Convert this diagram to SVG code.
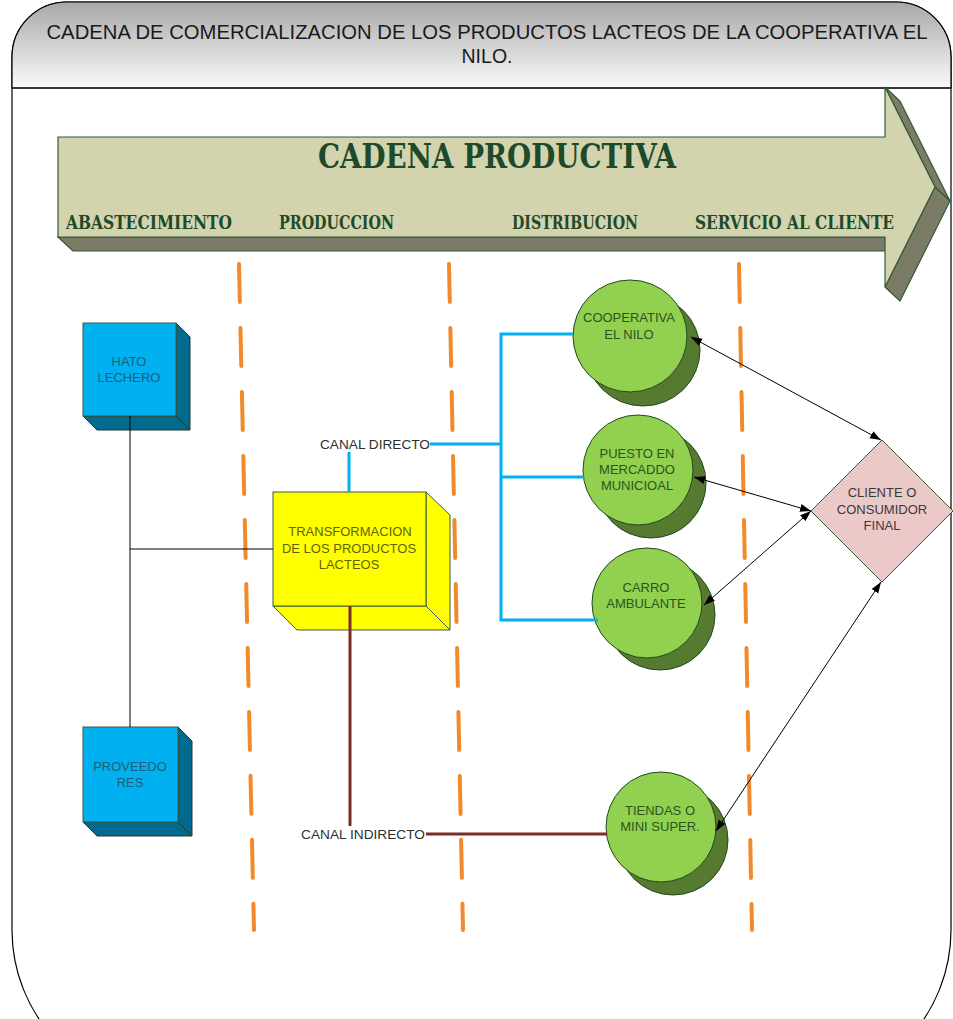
<svg xmlns="http://www.w3.org/2000/svg" width="953" height="1019" viewBox="0 0 953 1019">
  <style>
    .title { font-family: "Liberation Sans", Arial, sans-serif; font-size: 20px; fill: #1a1a1a; text-anchor: middle; }
    .stage { font-family: "DejaVu Serif", "Liberation Serif", serif; font-weight: bold; font-size: 18px; fill: #1d4a2a; }
    .big { font-family: "DejaVu Serif", "Liberation Serif", serif; font-weight: bold; font-size: 34px; fill: #1d4a2a; }
    .lbl { font-family: "Liberation Sans", Arial, sans-serif; font-size: 13px; text-anchor: middle; }
    .canal { font-family: "Liberation Sans", Arial, sans-serif; font-size: 13px; fill: #2e2e2e; }
    .blueTxt { fill: #1d5f7a; }
    .yelTxt { fill: #5f6400; }
    .grnTxt { fill: #2a561b; }
    .dmdTxt { fill: #3a3a3a; }
    .lane { stroke: #f28a2b; stroke-width: 4; stroke-linecap: round; stroke-dasharray: 38 26; fill: none; }
    .blue { stroke: #00b0f0; stroke-width: 3; fill: none; }
    .brown { stroke: #7b2d26; stroke-width: 3; fill: none; }
    .thin { stroke: #000; stroke-width: 1; fill: none; }
    .bidir { stroke: #000; stroke-width: 1; fill: none; marker-start: url(#tip); marker-end: url(#tip); }
    .boxFront { fill: #00b0f0; stroke: #3d5a3d; stroke-width: 1; }
    .boxSide { fill: #006b8f; stroke: #1d3a2d; stroke-width: 1; }
    .yel { fill: #ffff00; stroke: #3d5a3d; stroke-width: 1; }
    .circFront { fill: #92d050; stroke: #1e4a1e; stroke-width: 1; }
    .circBack { fill: #567a30; stroke: #1e4a1e; stroke-width: 1; }
  </style>
  <defs>
    <linearGradient id="headFill" x1="0" y1="0" x2="0" y2="1">
      <stop offset="0" stop-color="#a8a8a8"/>
      <stop offset="1" stop-color="#fafafa"/>
    </linearGradient>
    <marker id="tip" markerUnits="userSpaceOnUse" markerWidth="12" markerHeight="10" refX="11" refY="4" orient="auto-start-reverse">
      <path d="M0,0 L11,4 L0,8 Z" fill="#000"/>
    </marker>
  </defs>

  <!-- frame and header -->
  <g id="frame">
    <path d="M12,57 A55,55 0 0 1 67,2 H896 A55,55 0 0 1 951,57 V930 A160,160 0 0 1 791,1090 H172 A160,160 0 0 1 12,930 Z" fill="#fff" stroke="#000" stroke-width="1.2"/>
    <path d="M12,88 V57 A55,55 0 0 1 67,2 H896 A55,55 0 0 1 951,57 V88 Z" fill="url(#headFill)" stroke="#000" stroke-width="1.2"/>
    <line x1="12" y1="88" x2="951" y2="88" stroke="#222" stroke-width="1.5"/>
    <text class="title" x="487" y="39" textLength="881" lengthAdjust="spacingAndGlyphs">CADENA DE COMERCIALIZACION DE LOS PRODUCTOS LACTEOS DE LA COOPERATIVA EL</text>
    <text class="title" x="487" y="63" textLength="51" lengthAdjust="spacingAndGlyphs">NILO.</text>
  </g>

  <!-- production chain arrow -->
  <g id="chain-arrow">
    <polygon points="58,237 885,237 900,251 73,251" fill="#7b7b66" stroke="#2e5a3a" stroke-width="1.2"/>
    <polygon points="885,87 900,101 950,201 935,187" fill="#7b7b66" stroke="#2e5a3a" stroke-width="1.2"/>
    <polygon points="935,187 950,201 900,301 885,287" fill="#7b7b66" stroke="#2e5a3a" stroke-width="1.2"/>
    <polygon points="58,137 885,137 885,87 935,187 885,287 885,237 58,237" fill="#d3d3ae" stroke="#2e5a3a" stroke-width="1.2"/>
    <text class="big" x="318" y="168" textLength="358" lengthAdjust="spacingAndGlyphs">CADENA PRODUCTIVA</text>
    <text class="stage" x="66" y="229" textLength="166" lengthAdjust="spacingAndGlyphs">ABASTECIMIENTO</text>
    <text class="stage" x="279" y="229" textLength="115" lengthAdjust="spacingAndGlyphs">PRODUCCION</text>
    <text class="stage" x="512" y="229" textLength="126" lengthAdjust="spacingAndGlyphs">DISTRIBUCION</text>
    <text class="stage" x="695" y="229" textLength="199" lengthAdjust="spacingAndGlyphs">SERVICIO AL CLIENTE</text>
  </g>

  <!-- lane dividers -->
  <g id="lanes">
    <line class="lane" x1="239" y1="264" x2="254" y2="930"/>
    <line class="lane" x1="449" y1="264" x2="463" y2="930"/>
    <line class="lane" x1="739" y1="264" x2="752" y2="930"/>
  </g>

  <!-- supply nodes -->
  <g id="hato-lechero">
    <polygon class="boxSide" points="83,416 176,416 190,430 97,430"/>
    <polygon class="boxSide" points="176,323 190,337 190,430 176,416"/>
    <rect class="boxFront" x="83" y="323" width="93" height="93"/>
    <text class="lbl blueTxt" x="129" y="366">HATO</text>
    <text class="lbl blueTxt" x="129" y="382">LECHERO</text>
  </g>
  <g id="proveedores">
    <polygon class="boxSide" points="83,822 178,822 192,836 97,836"/>
    <polygon class="boxSide" points="178,727 192,741 192,836 178,822"/>
    <rect class="boxFront" x="83" y="727" width="95" height="95"/>
    <text class="lbl blueTxt" x="130" y="771">PROVEEDO</text>
    <text class="lbl blueTxt" x="130" y="787">RES</text>
  </g>

  <!-- processing node -->
  <g id="transformacion">
    <polygon class="yel" points="273,606 426,606 450,630 297,630"/>
    <polygon class="yel" points="426,492 450,515 450,630 426,606"/>
    <rect class="yel" x="273" y="492" width="153" height="114"/>
    <text class="lbl yelTxt" x="350" y="536">TRANSFORMACION</text>
    <text class="lbl yelTxt" x="349" y="553">DE LOS PRODUCTOS</text>
    <text class="lbl yelTxt" x="349" y="569">LACTEOS</text>
  </g>

  <!-- distribution points -->
  <g id="cooperativa">
    <ellipse class="circBack" cx="643" cy="350" rx="57" ry="56"/>
    <ellipse class="circFront" cx="630" cy="336" rx="57" ry="56"/>
    <text class="lbl grnTxt" x="629" y="322">COOPERATIVA</text>
    <text class="lbl grnTxt" x="629" y="339">EL NILO</text>
  </g>
  <g id="puesto-mercado">
    <ellipse class="circBack" cx="651" cy="483" rx="55" ry="55"/>
    <ellipse class="circFront" cx="638" cy="470" rx="55" ry="55"/>
    <text class="lbl grnTxt" x="637" y="458">PUESTO EN</text>
    <text class="lbl grnTxt" x="637" y="474">MERCADDO</text>
    <text class="lbl grnTxt" x="637" y="490">MUNICIOAL</text>
  </g>
  <g id="carro-ambulante">
    <ellipse class="circBack" cx="660" cy="615" rx="55" ry="55"/>
    <ellipse class="circFront" cx="647" cy="603" rx="55" ry="55"/>
    <text class="lbl grnTxt" x="646" y="592">CARRO</text>
    <text class="lbl grnTxt" x="646" y="608">AMBULANTE</text>
  </g>
  <g id="tiendas">
    <ellipse class="circBack" cx="673" cy="840" rx="55" ry="55"/>
    <ellipse class="circFront" cx="661" cy="827" rx="55" ry="55"/>
    <text class="lbl grnTxt" x="660" y="815">TIENDAS O</text>
    <text class="lbl grnTxt" x="660" y="831">MINI SUPER.</text>
  </g>

  <!-- customer -->
  <g id="cliente">
    <polygon points="882,440 953,511 882,582 811,511" fill="#eac9c8" stroke="#3a5a3a" stroke-width="1"/>
    <text class="lbl dmdTxt" x="882" y="497">CLIENTE O</text>
    <text class="lbl dmdTxt" x="882" y="514">CONSUMIDOR</text>
    <text class="lbl dmdTxt" x="882" y="530">FINAL</text>
  </g>

  <!-- connectors -->
  <g id="connectors">
    <polyline class="thin" points="130,416 130,727"/>
    <line class="thin" x1="130" y1="549" x2="273" y2="549"/>
    <line class="blue" x1="349" y1="452" x2="349" y2="492"/>
    <line class="blue" x1="430" y1="444" x2="501" y2="444"/>
    <polyline class="blue" points="573,334 501,334 501,620 598,620"/>
    <line class="blue" x1="501" y1="477" x2="584" y2="477"/>
    <line class="brown" x1="350" y1="606" x2="350" y2="826"/>
    <line class="brown" x1="426" y1="834" x2="607" y2="834"/>
    <line class="bidir" x1="691" y1="337" x2="881" y2="440"/>
    <line class="bidir" x1="694" y1="477" x2="811" y2="511"/>
    <line class="bidir" x1="704" y1="605" x2="811" y2="511"/>
    <line class="bidir" x1="716" y1="831" x2="881" y2="582"/>
    <text class="canal" x="320" y="449" textLength="110" lengthAdjust="spacingAndGlyphs">CANAL DIRECTO</text>
    <text class="canal" x="301" y="839" textLength="124" lengthAdjust="spacingAndGlyphs">CANAL INDIRECTO</text>
  </g>
</svg>
